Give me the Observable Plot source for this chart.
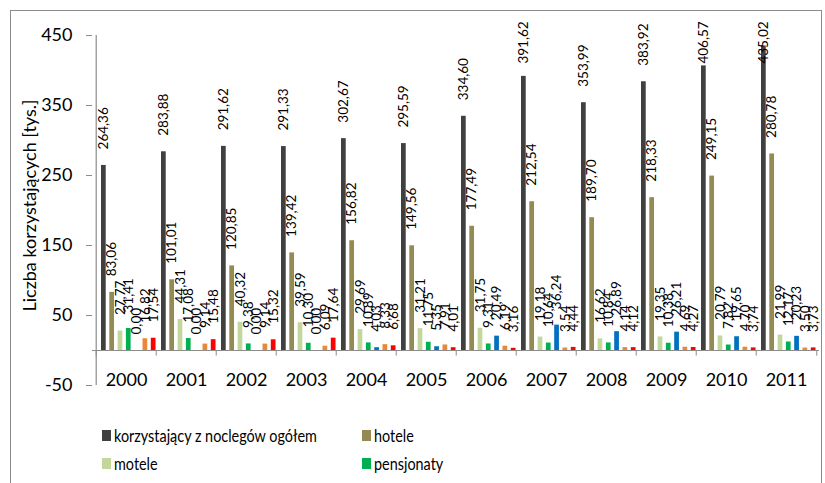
<!DOCTYPE html>
<html><head><meta charset="utf-8">
<script src="https://cdn.jsdelivr.net/npm/d3@7"></script>
<script src="https://cdn.jsdelivr.net/npm/@observablehq/plot@0.6"></script>
<style>
body{margin:0;background:#fff;font-family:Lato,sans-serif;color:#000}
#wrap{position:relative;width:825px;height:483px;overflow:hidden;background:#fff}
#frame{position:absolute;left:10px;top:10px;width:812px;height:500px;border:1.5px solid #8c8c8c;box-sizing:border-box;pointer-events:none}
#chart{position:absolute;left:0;top:0}
#chart svg{display:block}
#legend{position:absolute;left:102px;top:421px;display:grid;grid-template-columns:260px 260px;font-size:18px;line-height:28px}
#legend .it{display:flex;align-items:center;white-space:nowrap}
#legend .sw{display:inline-block;width:9px;height:11px;margin-right:3px;flex:none}
#legend .tx{display:inline-block;transform:scaleX(0.8);transform-origin:left center}
</style></head>
<body>
<div id="wrap"><div id="chart"></div><div id="legend"></div><div id="frame"></div></div>
<script>
const years = ["2000","2001","2002","2003","2004","2005","2006","2007","2008","2009","2010","2011"];
const series = ["korzystający z noclegów ogółem","hotele","motele","pensjonaty","inne obiekty hotelowe","domy wycieczkowe","schroniska"];
const legendSeries = ["korzystający z noclegów ogółem","hotele","motele","pensjonaty"];
const colors = ["#404040","#948A54","#C3D69B","#00B050","#0070C0","#E8883A","#FF0000"];
const ogolem     = [264.36,283.88,291.62,291.33,302.67,295.59,334.60,391.62,353.99,383.92,406.57,435.02];
const hotele     = [83.06,101.01,120.85,139.42,156.82,149.56,177.49,212.54,189.70,218.33,249.15,280.78];
const motele     = [27.77,44.31,40.32,39.59,29.69,31.21,31.75,19.18,16.62,19.35,20.79,21.99];
const pensjonaty = [31.41,17.08,9.38,10.30,10.89,11.75,9.31,10.64,10.84,10.38,7.82,12.17];
const inne       = [0.00,0.00,0.00,0.00,4.03,5.35,20.49,36.24,26.89,26.21,19.65,20.23];
const domy       = [16.82,9.14,9.14,6.09,8.33,7.91,6.19,3.54,4.14,4.69,4.70,3.50];
const schroniska = [17.54,15.48,15.32,17.64,6.68,4.01,3.16,4.44,4.12,4.27,3.74,3.73];
const yTicks = [-50,50,150,250,350,450];

const valuesBySeries = [ogolem,hotele,motele,pensjonaty,inne,domy,schroniska];
const rows = series.flatMap((s,i)=>years.map((y,j)=>({year:y,series:s,idx:i,value:valuesBySeries[i][j]})));
const fmt = v => v.toFixed(2).replace(".", ",");

const W = 825, H = 405, mL = 92, mR = 6;
const step = (W - mL - mR) / years.length;
const bw = 5.3, off0 = 5, bstep = 8.3;

const marks = [];
series.forEach((s,i)=>{
  const data = rows.filter(r=>r.idx===i);
  const left = off0 + i*bstep;
  marks.push(Plot.barY(data,{x:"year",y:"value",fill:colors[i],insetLeft:left,insetRight:step-left-bw}));
});
series.forEach((s,i)=>{
  const data = rows.filter(r=>r.idx===i);
  const left = off0 + i*bstep;
  marks.push(Plot.text(data,{x:"year",y:d=>Math.min(d.value,387),text:d=>fmt(d.value),rotate:-90,textAnchor:"start",dx:left+bw/2-step/2,dy:-16,fontSize:13.5,fill:"#000"}));
});

const plot = Plot.plot({
  width:W,height:H,marginLeft:mL,marginRight:mR,marginTop:35,marginBottom:20,
  style:{fontFamily:"Lato, sans-serif",background:"transparent",color:"#000"},
  x:{type:"band",domain:years,padding:0,axis:null},
  y:{domain:[-50,450],axis:null},
  marks:[
    Plot.axisY({ticks:yTicks,tickSize:6,tickPadding:14,fontSize:18,tickFormat:d=>String(d),label:null,stroke:"#8c8c8c"}),
    Plot.ruleX([years[0]],{x:d=>d,dx:-step/2,stroke:"#8c8c8c",strokeWidth:1.2}),
    Plot.ruleY([0],{stroke:"#8c8c8c",strokeWidth:1.2}),
    Plot.ruleX(years,{x:d=>d,dx:-step/2,y1:0,y2:-8,stroke:"#8c8c8c"}),
    Plot.ruleX([years[years.length-1]],{x:d=>d,dx:step/2,y1:0,y2:-8,stroke:"#8c8c8c"}),
    ...marks,
    Plot.text(years,{x:d=>d,y:-43,text:d=>d,fontSize:18,fill:"#000"}),
    Plot.text(["Liczba korzystających [tys.]"],{frameAnchor:"left",textAnchor:"middle",rotate:-90,dx:-62,dy:-5,fontSize:18,fill:"#000"})
  ]
});
document.getElementById("chart").appendChild(plot);

const lg = document.getElementById("legend");
legendSeries.forEach(s=>{
  const i = series.indexOf(s);
  const it = document.createElement("div"); it.className="it";
  const sw = document.createElement("span"); sw.className="sw"; sw.style.background=colors[i];
  const tx = document.createElement("span"); tx.className="tx"; tx.textContent=s;
  it.appendChild(sw); it.appendChild(tx); lg.appendChild(it);
});
</script>
</body></html>
